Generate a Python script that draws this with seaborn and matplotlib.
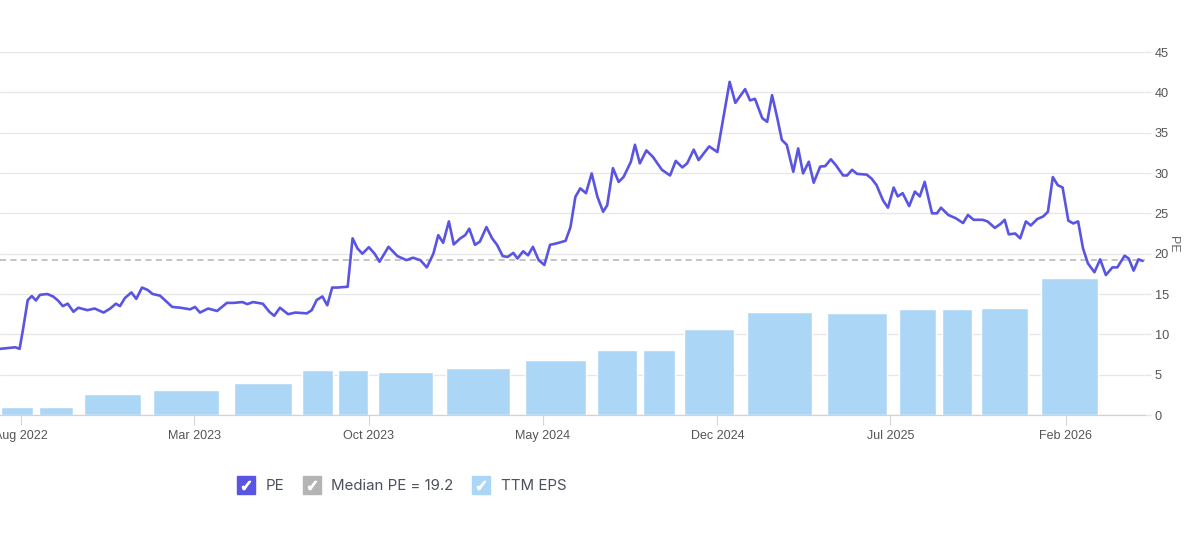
import pandas as pd
import matplotlib
matplotlib.use("Agg")
import matplotlib.pyplot as plt
import matplotlib.dates as mdates
from matplotlib.lines import Line2D
import seaborn as sns

# === PE history === #
pe_dates = [
    "2022-07-06", "2022-07-25", "2022-07-30", "2022-08-03", "2022-08-09", "2022-08-14",
    "2022-08-19", "2022-08-24", "2022-09-02", "2022-09-09", "2022-09-15", "2022-09-21",
    "2022-09-27", "2022-10-04", "2022-10-10", "2022-10-21", "2022-10-30", "2022-11-10",
    "2022-11-18", "2022-11-25", "2022-11-30", "2022-12-06", "2022-12-14", "2022-12-20",
    "2022-12-27", "2023-01-03", "2023-01-09", "2023-01-18", "2023-01-24", "2023-02-02",
    "2023-02-12", "2023-02-24", "2023-03-02", "2023-03-08", "2023-03-18", "2023-03-29",
    "2023-04-10", "2023-04-18", "2023-04-29", "2023-05-05", "2023-05-12", "2023-05-24",
    "2023-06-01", "2023-06-07", "2023-06-14", "2023-06-24", "2023-07-03", "2023-07-17",
    "2023-07-23", "2023-07-29", "2023-08-05", "2023-08-11", "2023-08-17", "2023-08-23",
    "2023-09-05", "2023-09-11", "2023-09-17", "2023-09-23", "2023-10-01", "2023-10-08",
    "2023-10-14", "2023-10-25", "2023-11-05", "2023-11-16", "2023-11-24", "2023-12-03",
    "2023-12-11", "2023-12-19", "2023-12-25", "2023-12-31", "2024-01-07", "2024-01-13",
    "2024-01-21", "2024-01-27", "2024-02-01", "2024-02-08", "2024-02-14", "2024-02-22",
    "2024-02-29", "2024-03-06", "2024-03-13", "2024-03-19", "2024-03-26", "2024-03-31",
    "2024-04-07", "2024-04-13", "2024-04-19", "2024-04-26", "2024-05-03", "2024-05-10",
    "2024-05-19", "2024-05-29", "2024-06-04", "2024-06-10", "2024-06-16", "2024-06-23",
    "2024-06-30", "2024-07-07", "2024-07-14", "2024-07-19", "2024-07-26", "2024-08-02",
    "2024-08-08", "2024-08-17", "2024-08-22", "2024-08-28", "2024-09-05", "2024-09-13",
    "2024-09-24", "2024-10-04", "2024-10-11", "2024-10-19", "2024-10-25", "2024-11-02",
    "2024-11-08", "2024-11-14", "2024-11-21", "2024-12-01", "2024-12-07", "2024-12-16",
    "2024-12-23", "2025-01-04", "2025-01-10", "2025-01-16", "2025-01-25", "2025-01-31",
    "2025-02-06", "2025-02-12", "2025-02-18", "2025-02-24", "2025-03-04", "2025-03-10",
    "2025-03-16", "2025-03-23", "2025-03-29", "2025-04-06", "2025-04-12", "2025-04-19",
    "2025-04-25", "2025-05-04", "2025-05-09", "2025-05-15", "2025-05-21", "2025-06-02",
    "2025-06-08", "2025-06-14", "2025-06-22", "2025-06-28", "2025-07-05", "2025-07-10",
    "2025-07-16", "2025-07-24", "2025-07-31", "2025-08-06", "2025-08-12", "2025-08-21",
    "2025-08-27", "2025-09-01", "2025-09-10", "2025-09-19", "2025-09-28", "2025-10-04",
    "2025-10-11", "2025-10-22", "2025-10-28", "2025-11-06", "2025-11-13", "2025-11-18",
    "2025-11-23", "2025-12-01", "2025-12-07", "2025-12-14", "2025-12-20", "2025-12-28",
    "2026-01-04", "2026-01-10", "2026-01-16", "2026-01-22", "2026-01-28", "2026-02-04",
    "2026-02-10", "2026-02-16", "2026-02-22", "2026-02-28", "2026-03-08", "2026-03-15",
    "2026-03-22", "2026-03-30", "2026-04-05", "2026-04-14", "2026-04-19", "2026-04-25",
    "2026-05-01", "2026-05-06",
]
pe_values = [
    8.2, 8.4, 8.2, 10.5, 14.25, 14.75,
    14.2, 14.9, 15.0, 14.7, 14.2, 13.5,
    13.8, 12.8, 13.3, 13.0, 13.2, 12.7,
    13.2, 13.8, 13.5, 14.5, 15.2, 14.4,
    15.8, 15.5, 15.0, 14.8, 14.25, 13.4,
    13.3, 13.1, 13.4, 12.7, 13.2, 12.9,
    13.9, 13.9, 14.0, 13.75, 14.0, 13.8,
    12.8, 12.3, 13.3, 12.5, 12.7, 12.6,
    13.0, 14.25, 14.7, 13.6, 15.8, 15.8,
    15.9, 21.9, 20.65, 20.0, 20.8, 20.0,
    19.0, 20.85, 19.7, 19.2, 19.5, 19.2,
    18.3, 20.0, 22.3, 21.35, 24.0, 21.15,
    21.9, 22.3, 23.1, 21.1, 21.5, 23.3,
    21.9, 21.1, 19.7, 19.6, 20.1, 19.4,
    20.3, 19.8, 20.85, 19.2, 18.6, 21.1,
    21.3, 21.6, 23.3, 27.05, 28.1, 27.5,
    29.95, 27.05, 25.2, 26.0, 30.6, 28.9,
    29.5, 31.4, 33.5, 31.2, 32.8, 32.0,
    30.4, 29.7, 31.5, 30.7, 31.2, 32.9,
    31.6, 32.4, 33.3, 32.6, 36.1, 41.3,
    38.7, 40.4, 39.0, 39.2, 36.8, 36.35,
    39.65, 37.0, 34.1, 33.5, 30.15, 33.05,
    29.95, 31.4, 28.8, 30.8, 30.85, 31.7,
    31.0, 29.7, 29.7, 30.4, 29.9, 29.8,
    29.3, 28.5, 26.6, 25.7, 28.2, 27.1,
    27.5, 25.9, 27.7, 27.1, 28.9, 25.0,
    25.0, 25.7, 24.8, 24.4, 23.8, 24.8,
    24.2, 24.2, 24.0, 23.2, 23.7, 24.2,
    22.4, 22.5, 21.9, 24.0, 23.5, 24.3,
    24.6, 25.2, 29.5, 28.5, 28.2, 24.1,
    23.75, 24.0, 20.65, 18.8, 17.7, 19.3,
    17.35, 18.3, 18.3, 19.75, 19.4, 17.9,
    19.3, 19.1,
]

# === TTM EPS periods === #
eps_start = [
    "2022-07-07", "2022-08-23", "2022-10-17", "2023-01-10", "2023-04-19",
    "2023-07-11", "2023-08-24", "2023-10-12", "2024-01-03", "2024-04-09",
    "2024-07-07", "2024-09-01", "2024-10-21", "2025-01-06", "2025-04-14",
    "2025-07-11", "2025-09-02", "2025-10-20", "2026-01-01",
]
eps_end = [
    "2022-08-15", "2022-10-04", "2022-12-26", "2023-03-31", "2023-06-29",
    "2023-08-18", "2023-09-30", "2023-12-18", "2024-03-22", "2024-06-23",
    "2024-08-24", "2024-10-10", "2024-12-21", "2025-03-27", "2025-06-27",
    "2025-08-26", "2025-10-09", "2025-12-16", "2026-03-12",
]
eps_values = [
    1.0, 1.0, 2.6, 3.1, 3.95,
    5.6, 5.6, 5.3, 5.8, 6.85,
    8.1, 8.1, 10.65, 12.8, 12.6,
    13.2, 13.2, 13.25, 17.0,
]

median_pe = 19.2

tick_dates = ["2022-08-01", "2023-03-01", "2023-10-01", "2024-05-01",
              "2024-12-01", "2025-07-01", "2026-02-01"]
tick_labels = ["Aug 2022", "Mar 2023", "Oct 2023", "May 2024",
               "Dec 2024", "Jul 2025", "Feb 2026"]
y_ticks = [0, 5, 10, 15, 20, 25, 30, 35, 40, 45]
legend_labels = ["PE", "Median PE = 19.2", "TTM EPS"]

PE_COLOR = "#5a54e2"
EPS_COLOR = "#acd6f5"
MEDIAN_COLOR = "#b4b4b4"
GRID_COLOR = "#e6e6e6"
TEXT_COLOR = "#555555"

# === Style === #
sns.set_theme(style="white")
plt.rcParams["font.family"] = ["Liberation Sans", "DejaVu Sans"]

pe = pd.DataFrame({"date": pd.to_datetime(pe_dates), "PE": pe_values})
eps = pd.DataFrame({
    "start": pd.to_datetime(eps_start),
    "end": pd.to_datetime(eps_end),
    "eps": eps_values,
})

fig = plt.figure(figsize=(12, 5.38), dpi=100)
ax = fig.add_axes([0.0, 0.2286, 0.9542, 0.6747])

# === PE line, EPS bars, median === #
sns.lineplot(data=pe, x="date", y="PE", ax=ax, color=PE_COLOR, lw=1.9, zorder=4,
             solid_joinstyle="round", solid_capstyle="round")
ax.bar(mdates.date2num(eps["start"]), eps["eps"],
       width=(eps["end"] - eps["start"]).dt.days.to_numpy(),
       align="edge", color=EPS_COLOR, zorder=2)
ax.axhline(median_pe, color=MEDIAN_COLOR, lw=1.1, ls=(0, (4, 2.8)), zorder=3)

# === Axes === #
ax.set_xlim(pd.Timestamp("2022-07-06"), pd.Timestamp("2026-05-09"))
ax.set_ylim(0, 45)
ax.set_xticks(pd.to_datetime(tick_dates))
ax.set_xticklabels(tick_labels)
ax.set_yticks(y_ticks)
ax.yaxis.tick_right()
ax.yaxis.set_label_position("right")

ax.yaxis.grid(True, color=GRID_COLOR, lw=0.9)
ax.xaxis.grid(False)
ax.set_axisbelow(True)

for side in ["left", "top", "right"]:
    ax.spines[side].set_visible(False)
ax.spines["bottom"].set_color("#cfd2d8")
ax.spines["bottom"].set_linewidth(0.9)

ax.tick_params(axis="x", bottom=True, length=7, width=0.8, color="#d6d6d6",
               labelcolor=TEXT_COLOR, labelsize=9, pad=4)
ax.tick_params(axis="y", left=False, labelleft=False, right=True, labelright=True,
               length=4, width=0.9, color=GRID_COLOR, labelcolor=TEXT_COLOR,
               labelsize=9.2, pad=3)

ax.set_xlabel("")
ax.set_ylabel("PE", rotation=270, color="#666666", fontsize=9)
ax.yaxis.set_label_coords(1.03, 0.47)

# === Legend with check boxes === #
colors = [PE_COLOR, MEDIAN_COLOR, EPS_COLOR]
handles = [
    (Line2D([], [], ls="", marker="s", ms=13.5, mfc=c, mec=c),
     Line2D([], [], ls="-", lw=0, marker="$✓$", ms=6, color="white"))
    for c in colors
]
leg = fig.legend(handles, legend_labels, loc="center left",
                 bbox_to_anchor=(236 / 1200, 1 - 486 / 538), ncol=3,
                 frameon=False, prop={"family": "Inter", "size": 10.8},
                 handlelength=1.3, handletextpad=0.65, columnspacing=1.2,
                 borderaxespad=0, borderpad=0)
for t in leg.get_texts():
    t.set_color("#4b4f5c")

fig.savefig("out.png", dpi=100)
plt.close(fig)
